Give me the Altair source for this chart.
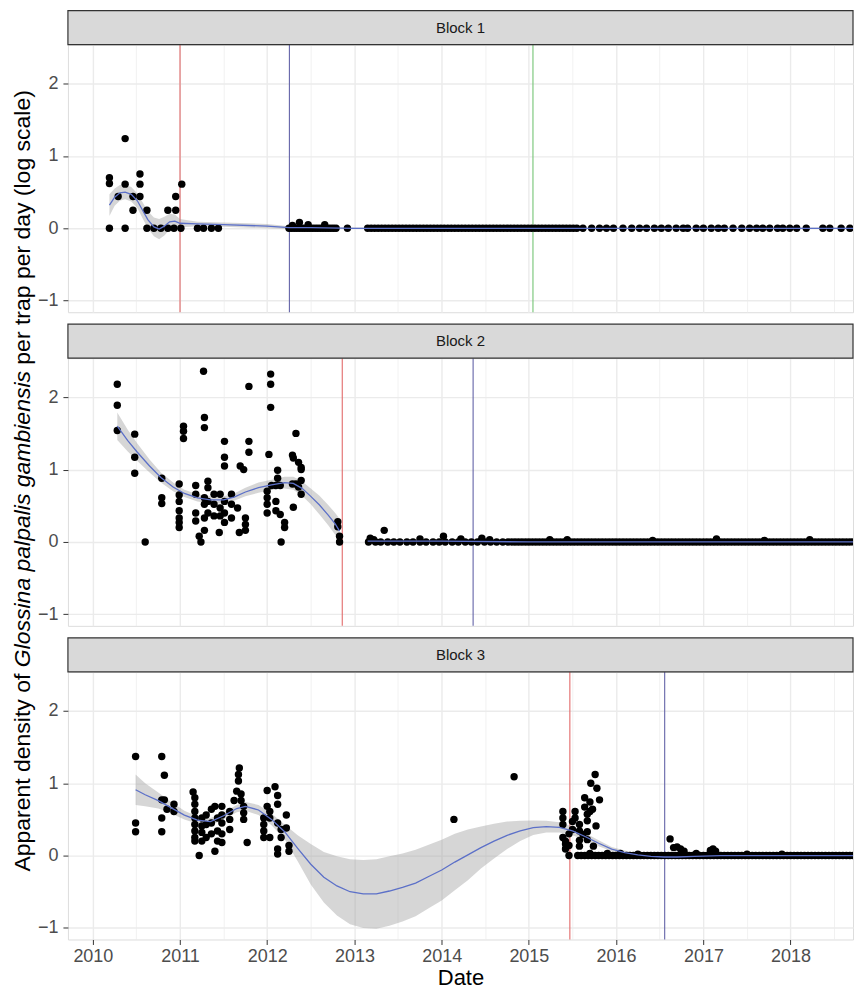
import altair as alt
import pandas as pd

FONT = "Liberation Sans"

# ---------------- data (decimal years, log-scale density) ----------------
block_labels = ["Block 1", "Block 2", "Block 3"]
y_title_parts = ["Apparent density of", "Glossina palpalis gambiensis", "per trap per day (log scale)"]
x_title = "Date"
year_ticks = [2010, 2011, 2012, 2013, 2014, 2015, 2016, 2017, 2018]
y_ticks = [-1, -0.5, 0, 0.5, 1, 1.5, 2]
line_kinds = ["red", "blue", "green"]

# Block 1 observations (date, value)
b1_obs = [
    (2010.19, 0.70), (2010.19, 0.62), (2010.19, 0.00), (2010.29, 0.44),
    (2010.37, 1.24), (2010.37, 0.61), (2010.37, 0.00), (2010.46, 0.44),
    (2010.46, 0.25), (2010.54, 0.75), (2010.54, 0.61), (2010.54, 0.44),
    (2010.62, 0.25), (2010.62, 0.00), (2010.70, 0.00), (2010.78, 0.00),
    (2010.86, 0.25), (2010.86, 0.00), (2010.93, 0.00), (2010.95, 0.25),
    (2010.95, 0.44), (2011.01, 0.00), (2011.02, 0.61), (2011.20, 0.00),
    (2011.27, 0.00), (2011.36, 0.00), (2011.44, 0.00), (2012.29, 0.04),
    (2012.37, 0.08), (2012.47, 0.05), (2012.66, 0.05), (2012.92, 0.00),
]
# Block 1 dates with zero catch
b1_zero = [
    2012.25, 2012.28, 2012.31, 2012.34, 2012.37, 2012.40, 2012.43, 2012.46, 2012.49, 2012.52,
    2012.55, 2012.58, 2012.61, 2012.64, 2012.67, 2012.70, 2012.73, 2012.76, 2012.79,
    2013.15, 2013.19, 2013.23, 2013.27, 2013.31, 2013.35, 2013.39, 2013.43, 2013.47, 2013.51,
    2013.55, 2013.59, 2013.63, 2013.67, 2013.71, 2013.75, 2013.79, 2013.83, 2013.87, 2013.91,
    2013.95, 2013.99, 2014.03, 2014.07, 2014.11, 2014.15, 2014.19, 2014.23, 2014.27, 2014.31,
    2014.35, 2014.39, 2014.43, 2014.47, 2014.51, 2014.55, 2014.59, 2014.63, 2014.67, 2014.71,
    2014.75, 2014.79, 2014.83, 2014.87, 2014.91, 2014.95, 2014.99, 2015.03, 2015.07, 2015.11,
    2015.15, 2015.19, 2015.23, 2015.27, 2015.31, 2015.35, 2015.39, 2015.43, 2015.47, 2015.51,
    2015.55,
    2015.62, 2015.72, 2015.81, 2015.89, 2015.97, 2016.08, 2016.18, 2016.27, 2016.35, 2016.44,
    2016.52, 2016.60, 2016.69, 2016.77, 2016.82, 2016.92, 2017.00, 2017.09, 2017.17, 2017.24,
    2017.34, 2017.44, 2017.53, 2017.61, 2017.68, 2017.76, 2017.85, 2017.91, 2017.99, 2018.07,
    2018.18, 2018.37, 2018.45, 2018.58, 2018.68, 2018.77, 2018.84,
]
b1_sm_x = [2010.19, 2010.25, 2010.31, 2010.37, 2010.44, 2010.51, 2010.57, 2010.63, 2010.70, 2010.76,
           2010.82, 2010.88, 2010.94, 2011.00, 2011.20, 2011.50, 2012.00, 2012.25, 2012.50, 2013.00,
           2014.00, 2016.00, 2018.85]
b1_sm_y = [0.32, 0.43, 0.49, 0.50, 0.47, 0.38, 0.25, 0.12, 0.02, -0.01,
           0.03, 0.09, 0.10, 0.07, 0.06, 0.05, 0.03, 0.01, 0.01, 0.00,
           0.00, 0.00, 0.00]
b1_sm_hw = [0.15, 0.12, 0.11, 0.10, 0.10, 0.10, 0.11, 0.12, 0.13, 0.14,
            0.13, 0.11, 0.09, 0.06, 0.03, 0.03, 0.03, 0.02, 0.01, 0.01,
            0.01, 0.01, 0.01]
b1_sm_seg = [1] * 23
b1_lines = [2011.00, 2012.255, 2015.047]
b1_line_kind = ["red", "blue", "green"]

# Block 2 observations
b2_obs = [
    (2010.28, 2.18), (2010.28, 1.89), (2010.28, 1.54), (2010.48, 1.49), (2010.48, 1.17),
    (2010.48, 0.95), (2010.60, 0.00), (2010.79, 0.88), (2010.79, 0.61), (2010.79, 0.53),
    (2010.99, 0.80), (2010.99, 0.65), (2010.99, 0.56), (2010.99, 0.43), (2010.99, 0.33),
    (2010.99, 0.27), (2010.99, 0.20), (2011.04, 1.60), (2011.04, 1.53), (2011.04, 1.43),
    (2011.18, 0.78), (2011.18, 0.66), (2011.18, 0.40), (2011.18, 0.29), (2011.22, 0.08),
    (2011.24, 0.00), (2011.27, 2.36), (2011.28, 1.72), (2011.28, 1.58), (2011.28, 0.61),
    (2011.28, 0.52), (2011.28, 0.33), (2011.28, 0.16), (2011.32, 0.84), (2011.32, 0.75),
    (2011.32, 0.56), (2011.32, 0.40), (2011.39, 0.66), (2011.39, 0.52), (2011.39, 0.36),
    (2011.45, 0.13), (2011.46, 0.66), (2011.46, 0.47), (2011.46, 0.36), (2011.51, 1.39),
    (2011.51, 1.17), (2011.51, 1.05), (2011.51, 0.56), (2011.51, 0.40), (2011.51, 0.27),
    (2011.59, 0.66), (2011.59, 0.52), (2011.59, 0.33), (2011.66, 0.47), (2011.68, 0.13),
    (2011.69, 1.05), (2011.73, 1.00), (2011.75, 0.33), (2011.75, 0.24), (2011.75, 0.16),
    (2011.79, 2.15), (2011.79, 1.39), (2011.79, 1.24), (2012.00, 0.70), (2012.00, 0.61),
    (2012.00, 0.52), (2012.00, 0.40), (2012.02, 1.21), (2012.04, 2.32), (2012.04, 2.18),
    (2012.04, 1.86), (2012.05, 0.78), (2012.10, 0.78), (2012.10, 0.56), (2012.10, 0.43),
    (2012.12, 0.99), (2012.12, 0.88), (2012.15, 0.78), (2012.15, 0.38), (2012.16, 0.00),
    (2012.20, 0.27), (2012.20, 0.20), (2012.29, 1.20), (2012.29, 0.80), (2012.30, 1.16),
    (2012.30, 0.48), (2012.33, 1.50), (2012.33, 0.80), (2012.36, 1.10), (2012.36, 0.76),
    (2012.39, 1.03), (2012.39, 1.00), (2012.39, 0.85), (2012.39, 0.66), (2012.81, 0.28),
    (2012.81, 0.21), (2012.83, 0.08), (2012.83, 0.00),
    (2013.18, 0.05), (2013.22, 0.03), (2013.34, 0.16), (2013.75, 0.04), (2014.02, 0.08),
    (2014.22, 0.04), (2014.46, 0.05), (2014.55, 0.03), (2015.24, 0.03), (2015.44, 0.03),
    (2016.42, 0.02), (2017.15, 0.04), (2017.70, 0.02), (2018.22, 0.03),
]
b2_zero = [
    2013.16, 2013.24, 2013.30, 2013.38, 2013.45, 2013.52, 2013.60, 2013.67, 2013.75, 2013.82,
    2013.90, 2013.97, 2014.04, 2014.12, 2014.19, 2014.27, 2014.34, 2014.41, 2014.49, 2014.56,
    2014.63, 2014.70, 2014.76,
    2014.80, 2014.84, 2014.88, 2014.92, 2014.96,
    2015.00, 2015.04, 2015.08, 2015.12, 2015.16, 2015.20, 2015.24, 2015.28, 2015.32, 2015.36,
    2015.40, 2015.44, 2015.48, 2015.52, 2015.56, 2015.60, 2015.64, 2015.68, 2015.72, 2015.76,
    2015.80, 2015.84, 2015.88, 2015.92, 2015.96,
    2016.00, 2016.04, 2016.08, 2016.12, 2016.16, 2016.20, 2016.24, 2016.28, 2016.32, 2016.36,
    2016.40, 2016.44, 2016.48, 2016.52, 2016.56, 2016.60, 2016.64, 2016.68, 2016.72, 2016.76,
    2016.80, 2016.84, 2016.88, 2016.92, 2016.96,
    2017.00, 2017.04, 2017.08, 2017.12, 2017.16, 2017.20, 2017.24, 2017.28, 2017.32, 2017.36,
    2017.40, 2017.44, 2017.48, 2017.52, 2017.56, 2017.60, 2017.64, 2017.68, 2017.72, 2017.76,
    2017.80, 2017.84, 2017.88, 2017.92, 2017.96,
    2018.00, 2018.04, 2018.08, 2018.12, 2018.16, 2018.20, 2018.24, 2018.28, 2018.32, 2018.36,
    2018.40, 2018.44, 2018.48, 2018.52, 2018.56, 2018.60, 2018.64, 2018.68, 2018.72, 2018.76,
    2018.80, 2018.84,
]
b2_sm_x = [2010.28, 2010.40, 2010.51, 2010.65, 2010.78, 2010.92, 2011.05, 2011.20, 2011.35, 2011.50,
           2011.62, 2011.75, 2011.90, 2012.05, 2012.20, 2012.30, 2012.40, 2012.50, 2012.60, 2012.70,
           2012.78, 2012.83,
           2013.15, 2014.00, 2015.00, 2016.00, 2017.00, 2018.85]
b2_sm_y = [1.60, 1.40, 1.24, 1.05, 0.89, 0.76, 0.67, 0.61, 0.58, 0.58,
           0.62, 0.69, 0.75, 0.79, 0.82, 0.81, 0.74, 0.63, 0.51, 0.37,
           0.25, 0.15,
           0.01, 0.01, 0.00, 0.00, 0.00, 0.00]
b2_sm_hw = [0.19, 0.15, 0.12, 0.09, 0.07, 0.06, 0.05, 0.05, 0.05, 0.05,
            0.05, 0.06, 0.07, 0.07, 0.08, 0.09, 0.10, 0.11, 0.13, 0.14,
            0.15, 0.17,
            0.02, 0.01, 0.01, 0.01, 0.01, 0.01]
b2_sm_seg = [1] * 22 + [2] * 6
b2_lines = [2012.861, 2014.36]
b2_line_kind = ["red", "blue"]

# Block 3 observations
b3_obs = [
    (2010.49, 1.37), (2010.49, 0.45), (2010.49, 0.33), (2010.79, 1.37), (2010.79, 0.77),
    (2010.79, 0.52), (2010.79, 0.33), (2010.82, 1.11), (2010.82, 0.77), (2010.85, 0.64),
    (2010.93, 0.71), (2010.93, 0.61), (2011.15, 0.88), (2011.17, 0.80), (2011.17, 0.71),
    (2011.17, 0.61), (2011.17, 0.52), (2011.17, 0.43), (2011.17, 0.34), (2011.17, 0.25),
    (2011.17, 0.20), (2011.22, 0.00), (2011.25, 0.52), (2011.25, 0.41), (2011.25, 0.32),
    (2011.25, 0.20), (2011.30, 0.56), (2011.30, 0.43), (2011.30, 0.25), (2011.36, 0.64),
    (2011.36, 0.45), (2011.36, 0.30), (2011.40, 0.06), (2011.40, 0.68), (2011.43, 0.52),
    (2011.43, 0.34), (2011.43, 0.20), (2011.48, 0.68), (2011.48, 0.56), (2011.48, 0.45),
    (2011.48, 0.30), (2011.48, 0.18), (2011.57, 0.61), (2011.57, 0.50), (2011.57, 0.36),
    (2011.62, 0.76), (2011.65, 0.89), (2011.67, 1.03), (2011.67, 1.12), (2011.68, 1.21),
    (2011.70, 0.85), (2011.70, 0.76), (2011.73, 0.68), (2011.73, 0.59), (2011.73, 0.50),
    (2011.77, 0.18), (2011.96, 0.52), (2011.96, 0.43), (2011.96, 0.34), (2011.96, 0.25),
    (2012.00, 0.90), (2012.00, 0.68), (2012.03, 0.61), (2012.03, 0.52), (2012.03, 0.25),
    (2012.09, 0.95), (2012.12, 0.83), (2012.12, 0.71), (2012.12, 0.45), (2012.12, 0.09),
    (2012.12, 0.02), (2012.16, 0.36), (2012.16, 0.25), (2012.22, 0.56), (2012.22, 0.38),
    (2012.25, 0.14), (2012.25, 0.06),
    (2014.14, 0.50), (2014.83, 1.09),
    (2015.39, 0.61), (2015.39, 0.52), (2015.39, 0.43), (2015.39, 0.25), (2015.42, 0.20),
    (2015.42, 0.16), (2015.42, 0.09), (2015.46, 0.30), (2015.46, 0.14), (2015.46, 0.00),
    (2015.50, 0.47), (2015.50, 0.36), (2015.53, 0.61), (2015.53, 0.52), (2015.58, 0.43),
    (2015.58, 0.34), (2015.58, 0.21), (2015.58, 0.13), (2015.62, 0.29), (2015.64, 0.80),
    (2015.64, 0.67), (2015.67, 0.57), (2015.67, 0.48), (2015.67, 0.33), (2015.67, 0.22),
    (2015.70, 0.74), (2015.70, 0.61), (2015.71, 1.00), (2015.73, 0.64), (2015.74, 0.13),
    (2015.76, 1.12), (2015.77, 0.41), (2015.78, 0.93), (2015.81, 0.77),
    (2015.70, 0.03), (2015.90, 0.03), (2016.05, 0.03), (2016.25, 0.02), (2016.62, 0.23),
    (2016.66, 0.11), (2016.70, 0.12), (2016.74, 0.09), (2016.78, 0.06), (2016.92, 0.03),
    (2017.08, 0.07), (2017.11, 0.09), (2017.14, 0.06), (2017.50, 0.02), (2017.90, 0.02),
]
b3_zero = [
    2015.56, 2015.60, 2015.64, 2015.68, 2015.72, 2015.76, 2015.80, 2015.84, 2015.88, 2015.92,
    2015.96,
    2016.00, 2016.04, 2016.08, 2016.12, 2016.16, 2016.20, 2016.24, 2016.28, 2016.32, 2016.36,
    2016.40, 2016.44, 2016.48, 2016.52, 2016.56, 2016.60, 2016.64, 2016.68, 2016.72, 2016.76,
    2016.80, 2016.84, 2016.88, 2016.92, 2016.96,
    2017.00, 2017.04, 2017.08, 2017.12, 2017.16, 2017.20, 2017.24, 2017.28, 2017.32, 2017.36,
    2017.40, 2017.44, 2017.48, 2017.52, 2017.56, 2017.60, 2017.64, 2017.68, 2017.72, 2017.76,
    2017.80, 2017.84, 2017.88, 2017.92, 2017.96,
    2018.00, 2018.04, 2018.08, 2018.12, 2018.16, 2018.20, 2018.24, 2018.28, 2018.32, 2018.36,
    2018.40, 2018.44, 2018.48, 2018.52, 2018.56, 2018.60, 2018.64, 2018.68, 2018.72, 2018.76,
    2018.80, 2018.84,
]
b3_sm_x = [2010.49, 2010.60, 2010.75, 2010.90, 2011.05, 2011.20, 2011.35, 2011.50, 2011.65, 2011.75,
           2011.90, 2012.05, 2012.20, 2012.35, 2012.50, 2012.65, 2012.80, 2012.95, 2013.10, 2013.25,
           2013.40, 2013.55, 2013.70, 2013.85, 2014.00, 2014.15, 2014.30, 2014.45, 2014.60, 2014.75,
           2014.90, 2015.05, 2015.20, 2015.35, 2015.50, 2015.65, 2015.80, 2015.95, 2016.10, 2016.25,
           2016.40, 2016.55, 2016.70, 2016.90, 2017.20, 2018.85]
b3_sm_y = [0.91, 0.84, 0.76, 0.66, 0.56, 0.49, 0.47, 0.55, 0.65, 0.68,
           0.63, 0.50, 0.33, 0.10, -0.12, -0.30, -0.42, -0.50, -0.53, -0.53,
           -0.49, -0.44, -0.38, -0.29, -0.20, -0.09, 0.01, 0.11, 0.20, 0.28,
           0.34, 0.385, 0.40, 0.39, 0.34, 0.26, 0.17, 0.09, 0.04, 0.01,
           -0.01, -0.02, -0.02, -0.01, 0.00, 0.00]
b3_sm_hw = [0.21, 0.16, 0.11, 0.08, 0.06, 0.05, 0.05, 0.05, 0.05, 0.06,
            0.07, 0.08, 0.10, 0.18, 0.28, 0.35, 0.41, 0.45, 0.47, 0.48,
            0.48, 0.47, 0.46, 0.44, 0.42, 0.39, 0.35, 0.29, 0.24, 0.19,
            0.14, 0.10, 0.08, 0.07, 0.06, 0.05, 0.04, 0.03, 0.03, 0.02,
            0.02, 0.02, 0.02, 0.02, 0.02, 0.02]
b3_sm_seg = [1] * 46
b3_lines = [2015.47, 2016.558]
b3_line_kind = ["red", "blue"]

# ---------------- styling / layout ----------------
W = 786          # panel width
H = 268          # panel height
STRIP = 34       # strip height
GAP = 12         # gap between panels
LINE_COLORS = ["#E26A6A", "#6464A8", "#74C474"]
GRID = "#EBEBEB"


def ydate(v):
    y = int(v)
    ts = pd.Timestamp(year=y, month=1, day=1) + pd.Timedelta(days=(v - y) * 365.25)
    return ts.strftime("%Y-%m-%dT%H:%M:%S")


X_DOMAIN = [alt.DateTime(year=2009, month=9, date=18, hours=14),
            alt.DateTime(year=2018, month=9, date=19, hours=12)]
X_VALUES = ([alt.DateTime(year=y, month=1, date=1) for y in year_ticks] +
            [alt.DateTime(year=y, month=7, date=2) for y in year_ticks])

x_scale = alt.Scale(domain=X_DOMAIN, nice=False)
y_scale = alt.Scale(domain=[-1.16, 2.54], nice=False, zero=False)

x_major = "month(datum.value) == 0"
y_major = "datum.value % 1 == 0"


def x_axis(bottom):
    common = dict(
        values=X_VALUES, grid=True, gridColor=GRID, domain=False,
        gridWidth={"condition": {"test": x_major, "value": 1.4}, "value": 0.7},
    )
    if bottom:
        return alt.Axis(
            labels=True, ticks=True, format="%Y", labelFlush=False,
            labelExpr="month(datum.value) == 0 ? timeFormat(datum.value, '%Y') : ''",
            tickOpacity={"condition": {"test": x_major, "value": 1}, "value": 0},
            tickSize=5, tickColor="#333333", labelPadding=3,
            labelFontSize=18, labelColor="#4D4D4D", labelFont=FONT,
            titleFontSize=22, titleFont=FONT, titleFontWeight="normal",
            titleColor="#000000", titlePadding=2,
            **common)
    return alt.Axis(labels=False, ticks=False, **common)


y_axis = alt.Axis(
    values=y_ticks, grid=True, gridColor=GRID, domain=False,
    gridWidth={"condition": {"test": y_major, "value": 1.4}, "value": 0.7},
    tickOpacity={"condition": {"test": y_major, "value": 1}, "value": 0},
    tickSize=5, tickColor="#333333", format="d",
    labelExpr="datum.value % 1 == 0 ? datum.label : ''",
    labelFontSize=18, labelColor="#4D4D4D", labelFont=FONT, labelPadding=5,
)


def panel(obs, zeros, sm_x, sm_y, sm_hw, sm_seg, lines, line_kind, label, bottom, with_ytitle):
    xs = [o[0] for o in obs] + zeros
    ys = [o[1] for o in obs] + [0.0] * len(zeros)
    pts = pd.DataFrame({"date": [ydate(v) for v in xs], "value": ys})
    sm = pd.DataFrame({
        "date": [ydate(v) for v in sm_x],
        "fit": sm_y,
        "lo": [a - b for a, b in zip(sm_y, sm_hw)],
        "hi": [a + b for a, b in zip(sm_y, sm_hw)],
        "seg": sm_seg,
    })
    vl = pd.DataFrame({"date": [ydate(v) for v in lines], "kind": line_kind})

    xt = x_title if bottom else None
    xenc = alt.X("date:T", scale=x_scale, axis=x_axis(bottom), title=xt)

    rules = alt.Chart(vl).mark_rule(strokeWidth=1.1).encode(
        x=xenc,
        color=alt.Color("kind:N", scale=alt.Scale(domain=line_kinds, range=LINE_COLORS), legend=None),
    )
    ribbon = alt.Chart(sm).mark_area(color="#999999", opacity=0.4, clip=True).encode(
        x=xenc,
        y=alt.Y("lo:Q", scale=y_scale, axis=y_axis, title=None),
        y2="hi:Q",
        detail="seg:N",
    )
    points = alt.Chart(pts).mark_circle(size=55, color="#000000", opacity=1, clip=True).encode(
        x=xenc,
        y=alt.Y("value:Q", scale=y_scale, axis=y_axis, title=None),
    )
    line = alt.Chart(sm).mark_line(color="#5C70C8", strokeWidth=1.3, clip=True).encode(
        x=xenc,
        y=alt.Y("fit:Q", scale=y_scale, axis=y_axis, title=None),
        detail="seg:N",
    )
    lab = pd.DataFrame({"label": [label]})
    strip = alt.Chart(lab).mark_rect(fill="#D9D9D9", stroke="#333333", strokeWidth=1.2).encode(
        x=alt.value(0), x2=alt.value(W), y=alt.value(-STRIP), y2=alt.value(0),
    )
    strip_text = alt.Chart(lab).mark_text(
        fontSize=15, font=FONT, color="#1A1A1A", align="center", baseline="middle"
    ).encode(x=alt.value(W / 2), y=alt.value(-STRIP / 2), text="label:N")

    layers = [rules, ribbon, points, line, strip, strip_text]
    if with_ytitle:
        anchors = [514, 309.4, 6.5]
        styles = ["normal", "italic", "normal"]
        for txt, anc, sty in zip(y_title_parts, anchors, styles):
            layers.append(
                alt.Chart(pd.DataFrame({"t": [txt]})).mark_text(
                    angle=270, align="left", baseline="alphabetic", fontSize=23,
                    font=FONT, fontStyle=sty, color="#000000",
                ).encode(x=alt.value(-38), y=alt.value(anc), text="t:N")
            )
    return alt.layer(*layers).properties(width=W, height=H)


p1 = panel(b1_obs, b1_zero, b1_sm_x, b1_sm_y, b1_sm_hw, b1_sm_seg, b1_lines, b1_line_kind,
           block_labels[0], False, False)
p2 = panel(b2_obs, b2_zero, b2_sm_x, b2_sm_y, b2_sm_hw, b2_sm_seg, b2_lines, b2_line_kind,
           block_labels[1], False, True)
p3 = panel(b3_obs, b3_zero, b3_sm_x, b3_sm_y, b3_sm_hw, b3_sm_seg, b3_lines, b3_line_kind,
           block_labels[2], True, False)

chart = alt.vconcat(p1, p2, p3, spacing=GAP + STRIP, bounds="flush").properties(
    padding={"left": 3, "top": 0, "right": 0, "bottom": 0}
).configure_view(
    stroke="#333333", strokeWidth=1.2
).configure(background="white")

chart.save("out.html", embed_options={"renderer": "svg", "actions": False})
